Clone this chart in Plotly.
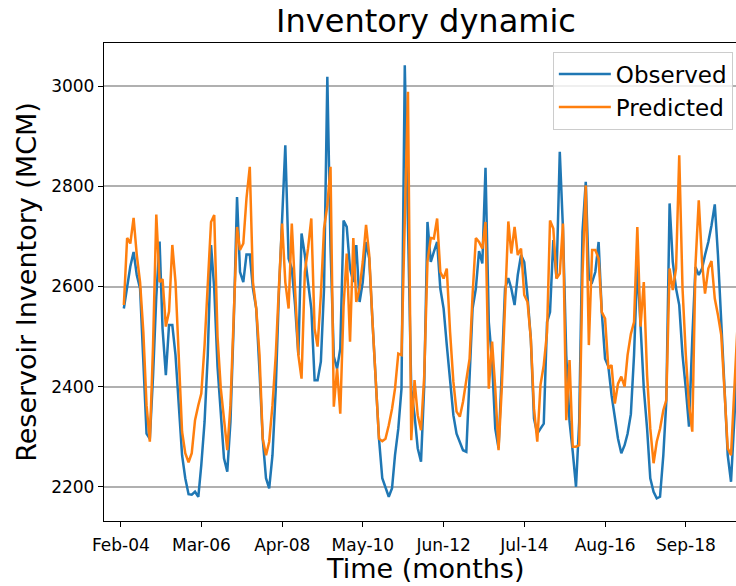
import pandas as pd
import plotly.graph_objects as go

# Monthly reservoir inventory (MCM), Feb 2004 onwards
observed = [
    2556, 2600, 2640, 2669, 2623, 2596, 2452, 2306, 2296, 2420,
    2580, 2690, 2516, 2423, 2523, 2523, 2463, 2363, 2263, 2217,
    2185, 2184, 2190, 2180, 2243, 2330, 2463, 2683, 2596, 2440,
    2343, 2257, 2230, 2330, 2529, 2779, 2629, 2609, 2664, 2664,
    2596, 2556, 2430, 2296, 2217, 2197, 2263, 2396, 2583, 2742,
    2882, 2656, 2636, 2563, 2463, 2706, 2663, 2609, 2556, 2413,
    2413, 2450, 2596, 3019, 2680, 2460, 2436, 2476, 2732, 2719,
    2636, 2609, 2683, 2569, 2609, 2689, 2656, 2529, 2396, 2296,
    2217, 2197, 2180, 2197, 2263, 2316, 2396, 3042, 2700, 2396,
    2343, 2277, 2250, 2400, 2729, 2649, 2669, 2689, 2596, 2556,
    2483, 2410, 2343, 2306, 2290, 2273, 2270, 2430, 2556, 2596,
    2671, 2646, 2837, 2529, 2450, 2316, 2277, 2430, 2596, 2617,
    2596, 2563, 2623, 2663, 2649, 2580, 2496, 2336, 2306, 2316,
    2326, 2529, 2549, 2693, 2616, 2869, 2716, 2463, 2330, 2270,
    2200, 2330, 2709, 2809, 2616, 2609, 2629, 2689, 2549, 2456,
    2440, 2383, 2333, 2296, 2267, 2283, 2306, 2345, 2463, 2643,
    2523, 2396, 2316, 2217, 2190, 2177, 2180, 2263, 2370, 2766,
    2649, 2596, 2563, 2463, 2396, 2320, 2496, 2639, 2623, 2636,
    2663, 2689, 2722, 2764, 2663, 2543, 2396, 2263, 2210, 2330,
    2450,
]

predicted = [
    2563, 2697, 2686, 2737, 2663, 2609, 2509, 2363, 2290, 2480,
    2744, 2609, 2615, 2520, 2550, 2683, 2609, 2463, 2310, 2267,
    2249, 2267, 2333, 2363, 2386, 2483, 2596, 2729, 2743, 2500,
    2396, 2330, 2273, 2363, 2556, 2719, 2673, 2686, 2776, 2839,
    2609, 2556, 2463, 2296, 2263, 2290, 2363, 2463, 2596, 2726,
    2609, 2556, 2726, 2596, 2463, 2416, 2629, 2676, 2736, 2516,
    2480, 2583, 2716, 2762, 2839, 2360, 2436, 2346, 2560, 2666,
    2490, 2697, 2569, 2596, 2649, 2723, 2663, 2529, 2396, 2296,
    2291, 2296, 2323, 2356, 2396, 2466, 2463, 2729, 2989, 2293,
    2413, 2343, 2313, 2420, 2650, 2697, 2696, 2736, 2629, 2616,
    2636, 2509, 2410, 2350, 2340, 2370, 2416, 2456, 2583, 2697,
    2689, 2676, 2729, 2396, 2490, 2396, 2273, 2396, 2563, 2730,
    2666, 2719, 2663, 2676, 2583, 2569, 2496, 2356, 2290, 2403,
    2443, 2509, 2732, 2716, 2616, 2626, 2726, 2333, 2453, 2280,
    2280, 2283, 2623, 2802, 2483, 2673, 2673, 2656, 2549, 2536,
    2436, 2443, 2366, 2406, 2420, 2400, 2463, 2505, 2529, 2719,
    2520, 2609, 2423, 2316, 2247, 2290, 2316, 2353, 2373, 2636,
    2593, 2636, 2862, 2596, 2463, 2363, 2310, 2643, 2772, 2649,
    2586, 2636, 2651, 2576, 2543, 2503, 2390, 2277, 2263, 2380,
    2520,
]

x_tick_labels = ["Feb-04", "Mar-06", "Apr-08", "May-10",
                 "Jun-12", "Jul-14", "Aug-16", "Sep-18"]
y_ticks = [2200, 2400, 2600, 2800, 3000]

dates = pd.date_range("2004-02-29", periods=len(observed), freq="ME")
x_ticks = pd.date_range("2004-02-01", periods=len(x_tick_labels), freq="25MS")

FONT = "DejaVu Sans, Liberation Sans, sans-serif"

fig = go.Figure()
fig.add_trace(go.Scatter(x=dates, y=observed, mode="lines", name="Observed",
                         line=dict(color="#1f77b4", width=2.5)))
fig.add_trace(go.Scatter(x=dates, y=predicted, mode="lines", name="Predicted",
                         line=dict(color="#ff7f0e", width=2.5)))

fig.update_layout(
    width=736, height=586,
    margin=dict(l=104, r=0, t=43, b=65),
    paper_bgcolor="white", plot_bgcolor="white",
    font=dict(family=FONT, color="black"),
    # the axes box runs a little past the right edge of the canvas,
    # so the title is centred on the full box rather than the visible part
    title=dict(text="Inventory dynamic", x=426 / 736, xref="container",
               xanchor="center", y=1 - 21 / 586, yref="container",
               yanchor="middle", font=dict(size=32, family=FONT)),
    legend=dict(x=0.995, xanchor="right", y=0.982, yanchor="top",
                bgcolor="rgba(255,255,255,0.8)", bordercolor="#cccccc",
                borderwidth=1, font=dict(size=23, family=FONT),
                itemwidth=52, tracegroupgap=0),
    showlegend=True,
    annotations=[dict(text="Time (months)", xref="paper", yref="paper",
                      x=(425 - 104) / 632, y=-(568 - 521) / 478,
                      xanchor="center", yanchor="middle", showarrow=False,
                      font=dict(size=27, family=FONT))],
)

fig.update_xaxes(
    type="date",
    range=["2003-08-26", "2019-12-17"],
    tickmode="array", tickvals=x_ticks, ticktext=x_tick_labels,
    tickfont=dict(size=17), ticks="outside", ticklen=5, tickwidth=1.3,
    tickcolor="black", ticklabelstandoff=3,
    showline=True, linecolor="black", linewidth=1.3, mirror=True,
    showgrid=False, zeroline=False,
)
fig.update_yaxes(
    range=[2131.6, 3086.5],
    tickmode="array", tickvals=y_ticks,
    tickfont=dict(size=17), ticks="outside", ticklen=5, tickwidth=1.3,
    tickcolor="black",
    showline=True, linecolor="black", linewidth=1.3, mirror=False,
    showgrid=True, gridcolor="#b0b0b0", gridwidth=1.5, zeroline=False,
    title=dict(text="Reservoir Inventory (MCM)", font=dict(size=27), standoff=6),
)

fig.write_html("out.html")
